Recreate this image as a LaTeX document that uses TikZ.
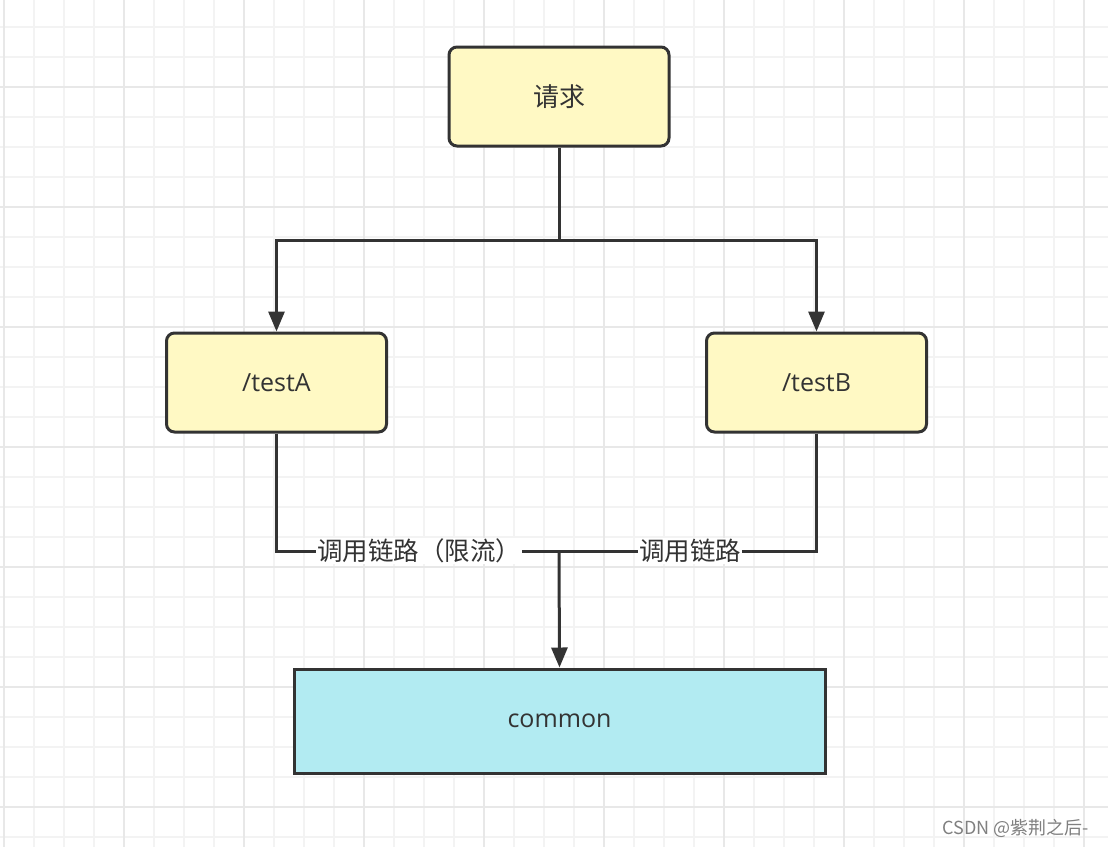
\documentclass[tikz,border=0pt]{standalone}
\usepackage{fontspec}
\setmainfont{Open Sans}
\newfontfamily\cjk{Noto Sans CJK SC}
\usetikzlibrary{arrows.meta}
\definecolor{edgec}{HTML}{333333}
\definecolor{notec}{HTML}{FFF9C4}
\definecolor{basec}{HTML}{B2EBF2}
\definecolor{gridc}{HTML}{F3F3F3}
\definecolor{gridmaj}{HTML}{E8E8E8}
\tikzset{
  box/.style={draw=edgec,line width=3pt,fill=notec,rounded corners=8pt,
    minimum width=220pt,minimum height=99pt,text=edgec,
    font=\fontsize{25}{28}\selectfont},
  link/.style={draw=edgec,line width=3pt},
  arrow/.style={link,-{Triangle[length=20pt,width=16pt]}},
  lbl/.style={fill=white,inner sep=1pt,text=edgec,font=\cjk\fontsize{25.5}{28}\selectfont}
}
\begin{document}
\begin{tikzpicture}[x=1pt,y=-1pt]
  \useasboundingbox[fill=white] (0,0) rectangle (1108,847);
  % grid paper
  \foreach \gx in {4,34,...,1108} \draw[gridc,line width=1.5pt] (\gx,0) -- (\gx,847);
  \foreach \gy in {27,57,...,847} \draw[gridc,line width=1.5pt] (0,\gy) -- (1108,\gy);
  \foreach \gx in {4,124,...,1108} \draw[gridmaj,line width=2pt] (\gx,0) -- (\gx,847);
  \foreach \gy in {87,207,...,847} \draw[gridmaj,line width=2pt] (0,\gy) -- (1108,\gy);
  % boxes
  \node[box,font=\cjk\fontsize{26}{28}\selectfont] (req) at (559,96.5) {请求};
  \node[box] (testA) at (276.5,382.5) {/testA};
  \node[box] (testB) at (816.5,382.5) {/testB};
  \node[box,fill=basec,rounded corners=0pt,minimum width=531pt,minimum height=104pt] (common) at (559.5,721) {common};
  % connectors
  \coordinate (split) at (559,240);
  \coordinate (merge) at (559,551);
  \draw[link] (req.south) -- (split);
  \draw[arrow] (split) -| (testA.north);
  \draw[arrow] (split) -| (testB.north);
  \draw[link] (testA.south) |- (merge);
  \draw[link] (testB.south) |- (merge);
  \draw[arrow] (merge) -- (common.north);
  \node[lbl] (lblA) at (419,551) {调用链路（限流）};
  \node[lbl] (lblB) at (690,551) {调用链路};
  \node[text=gray,font=\cjk\fontsize{18}{20}\selectfont] (mark) at (1016,828) {CSDN @紫荆之后-};
\end{tikzpicture}
\end{document}
